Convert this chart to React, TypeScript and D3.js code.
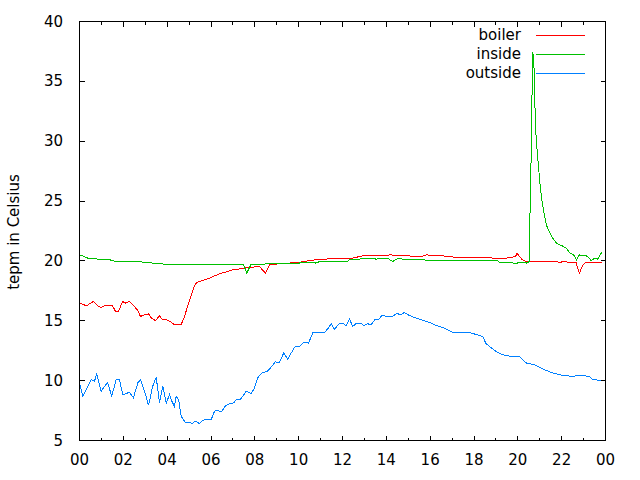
import React, { useEffect } from 'react';
import * as d3 from 'd3';

// x ticks: hour of the day, every 2 hours
const xTickHours = [0, 2, 4, 6, 8, 10, 12, 14, 16, 18, 20, 22, 24];
const xTickLabels = ['00', '02', '04', '06', '08', '10', '12', '14', '16', '18', '20', '22', '00'];
const xMinorHours = [1, 3, 5, 7, 9, 11, 13, 15, 17, 19, 21, 23];
const yTicks = [5, 10, 15, 20, 25, 30, 35, 40];

const seriesNames = ['boiler', 'inside', 'outside'];
const seriesColors = ['#ff0000', '#00c000', '#0080ff'];

// [hour, °C]
const boiler: [number, number][] = [
  [0.00, 16.48], [0.32, 16.25], [0.55, 16.53], [0.64, 16.61], [0.78, 16.33], [0.96, 16.11],
  [1.14, 16.25], [1.51, 16.25], [1.64, 15.78], [1.78, 15.78], [1.96, 16.61], [2.10, 16.48],
  [2.28, 16.61], [2.51, 16.19], [2.69, 15.78], [2.78, 15.36], [2.97, 15.50], [3.15, 15.58],
  [3.28, 15.23], [3.47, 15.00], [3.65, 15.42], [3.79, 15.08], [3.97, 15.08], [4.20, 14.86],
  [4.29, 14.73], [4.65, 14.73], [4.79, 15.36], [4.93, 16.19], [5.06, 16.89], [5.20, 17.73],
  [5.34, 18.19], [5.47, 18.28], [5.70, 18.42], [5.93, 18.56], [6.16, 18.75], [6.48, 18.98],
  [6.75, 19.11], [6.98, 19.25], [7.30, 19.33], [7.62, 19.44], [8.21, 19.53], [8.49, 18.98],
  [8.67, 19.67], [8.90, 19.73], [10.04, 19.89], [10.40, 20.00], [10.95, 20.14], [12.45, 20.23],
  [12.64, 20.31], [12.91, 20.42], [14.23, 20.50], [15.60, 20.36], [15.83, 20.50], [16.56, 20.44],
  [16.88, 20.33], [18.25, 20.31], [18.52, 20.25], [19.47, 20.23], [19.89, 20.36], [19.97, 20.64],
  [20.07, 20.36], [20.22, 20.08], [20.38, 19.94], [21.75, 19.94], [21.90, 19.89], [22.13, 19.94],
  [22.35, 19.89], [22.66, 19.89], [22.73, 19.39], [22.81, 18.98], [22.93, 19.53], [23.04, 19.81],
  [23.19, 19.89], [23.80, 19.89], [23.86, 19.81],
];

const inside: [number, number][] = [
  [0.00, 20.50], [0.15, 20.42], [0.38, 20.23], [0.91, 20.14], [1.37, 20.14], [1.45, 20.00],
  [2.74, 19.94], [3.04, 19.86], [3.42, 19.81], [3.88, 19.73], [7.48, 19.73], [7.63, 18.98],
  [7.83, 19.73], [8.44, 19.73], [8.52, 19.81], [10.04, 19.81], [10.08, 19.89], [10.72, 19.89],
  [10.77, 19.81], [10.95, 19.94], [12.24, 19.94], [12.32, 20.14], [12.77, 20.14], [12.92, 20.23],
  [13.38, 20.23], [13.54, 20.14], [13.76, 20.23], [14.06, 20.23], [14.29, 19.94], [14.45, 20.14],
  [14.60, 20.23], [14.75, 20.14], [15.66, 20.14], [15.74, 20.08], [16.20, 20.00], [19.08, 20.00],
  [19.16, 19.89], [19.75, 19.89], [19.80, 19.81], [19.98, 19.81], [20.03, 19.89], [20.30, 19.89],
  [20.38, 19.81], [20.45, 19.89], [20.51, 19.92], [20.53, 22.03], [20.59, 26.48], [20.62, 30.92],
  [20.68, 37.44], [20.73, 36.75], [20.77, 33.42], [20.83, 30.50], [20.89, 28.98], [20.97, 27.31],
  [21.03, 26.06], [21.12, 24.81], [21.21, 23.83], [21.30, 23.00], [21.44, 22.44], [21.59, 21.92],
  [21.76, 21.48], [22.03, 21.25], [22.22, 21.06], [22.35, 20.71], [22.57, 20.46], [22.67, 20.08],
  [22.81, 20.50], [23.12, 20.44], [23.27, 20.23], [23.35, 20.00], [23.49, 20.23], [23.64, 20.14],
  [23.80, 20.64], [23.85, 20.69],
];

const outside: [number, number][] = [
  [0.00, 9.81], [0.15, 8.69], [0.38, 9.53], [0.53, 10.08], [0.68, 9.94], [0.79, 10.56],
  [0.99, 9.11], [1.14, 9.53], [1.29, 9.81], [1.47, 8.69], [1.67, 10.08], [1.82, 10.08],
  [1.98, 8.83], [2.13, 8.92], [2.28, 9.03], [2.46, 8.56], [2.66, 9.81], [2.78, 10.08],
  [2.97, 9.11], [3.15, 7.94], [3.34, 9.53], [3.50, 10.28], [3.65, 8.14], [3.80, 9.53],
  [3.96, 8.14], [4.11, 8.83], [4.18, 8.42], [4.33, 7.86], [4.41, 8.69], [4.52, 8.42],
  [4.64, 7.03], [4.82, 6.53], [5.02, 6.53], [5.14, 6.42], [5.29, 6.61], [5.47, 6.42],
  [5.62, 6.69], [5.78, 6.75], [6.01, 6.75], [6.16, 7.44], [6.31, 7.53], [6.46, 7.36],
  [6.65, 7.86], [6.84, 8.08], [7.03, 8.14], [7.15, 8.42], [7.33, 8.42], [7.45, 8.69],
  [7.60, 9.11], [7.83, 8.92], [7.98, 9.35], [8.13, 10.23], [8.32, 10.64], [8.56, 10.78],
  [8.71, 11.06], [8.93, 11.56], [9.12, 11.53], [9.32, 12.31], [9.50, 11.81], [9.66, 12.31],
  [9.84, 12.86], [10.04, 12.86], [10.23, 13.19], [10.45, 13.14], [10.64, 13.98], [11.15, 13.98],
  [11.36, 14.39], [11.48, 14.75], [11.63, 14.31], [11.86, 14.75], [12.04, 14.75], [12.17, 14.58],
  [12.32, 15.14], [12.47, 14.53], [12.65, 14.81], [12.85, 14.81], [12.97, 14.58], [13.15, 14.75],
  [13.31, 14.67], [13.50, 15.14], [13.65, 15.08], [13.81, 15.48], [13.99, 15.36], [14.29, 15.36],
  [14.48, 15.64], [14.63, 15.50], [14.83, 15.69], [15.05, 15.44], [15.28, 15.28], [15.51, 15.14],
  [15.74, 15.00], [15.97, 14.86], [16.20, 14.67], [16.42, 14.53], [16.65, 14.39], [16.85, 14.19],
  [17.11, 13.98], [17.87, 13.98], [18.40, 13.69], [18.55, 13.08], [19.01, 12.44], [19.31, 12.17],
  [19.69, 12.03], [20.07, 12.03], [20.38, 11.48], [20.83, 11.28], [21.21, 10.92], [21.59, 10.64],
  [22.05, 10.44], [22.50, 10.36], [22.81, 10.44], [23.27, 10.36], [23.42, 10.08], [23.80, 10.03],
  [24.00, 10.00],
];

const allSeries = [boiler, inside, outside];

const FONT = '"DejaVu Sans", sans-serif';

export default function App() {
  useEffect(() => {
    document.body.style.margin = '0';
  }, []);

  const W = 640;
  const H = 480;
  const left = 79.5;
  const right = 605.5;
  const top = 21.5;
  const bottom = 440.5;

  const x = d3.scaleLinear().domain([0, 24]).range([left, right]);
  const y = d3.scaleLinear().domain([5, 40]).range([bottom, top]);
  const line = d3
    .line<[number, number]>()
    .x((d) => x(d[0]))
    .y((d) => y(d[1]));

  const majorLen = 5;
  const minorLen = 3;

  return (
    <svg width={W} height={H} style={{ display: 'block', background: '#fff' }}>
      {/* data */}
      {allSeries.map((s, i) => (
        <path
          key={seriesNames[i]}
          d={line(s) || ''}
          fill="none"
          stroke={seriesColors[i]}
          strokeWidth={1}
          shapeRendering="crispEdges"
        />
      ))}

      {/* frame */}
      <rect
        x={left}
        y={top}
        width={right - left}
        height={bottom - top}
        fill="none"
        stroke="#000"
        strokeWidth={1}
        shapeRendering="crispEdges"
      />

      {/* x ticks */}
      <g stroke="#000" strokeWidth={1} shapeRendering="crispEdges">
        {xTickHours.map((h) => (
          <g key={'xt' + h}>
            <line x1={x(h)} x2={x(h)} y1={bottom} y2={bottom - majorLen} />
            <line x1={x(h)} x2={x(h)} y1={top} y2={top + majorLen} />
          </g>
        ))}
        {xMinorHours.map((h) => (
          <g key={'xm' + h}>
            <line x1={x(h)} x2={x(h)} y1={bottom} y2={bottom - minorLen} />
            <line x1={x(h)} x2={x(h)} y1={top} y2={top + minorLen} />
          </g>
        ))}
        {yTicks.map((v) => (
          <g key={'yt' + v}>
            <line x1={left} x2={left + majorLen} y1={y(v)} y2={y(v)} />
            <line x1={right} x2={right - majorLen} y1={y(v)} y2={y(v)} />
          </g>
        ))}
      </g>

      {/* tick labels */}
      <g fontFamily={FONT} fontSize={15} fill="#000">
        {xTickHours.map((h, i) => (
          <text key={'xl' + i} x={x(h)} y={460} textAnchor="middle" dominantBaseline="central">
            {xTickLabels[i]}
          </text>
        ))}
        {yTicks.map((v) => (
          <text key={'yl' + v} x={63} y={y(v)} textAnchor="end" dominantBaseline="central">
            {v}
          </text>
        ))}
        <text
          transform="translate(14,232) rotate(-90)"
          textAnchor="middle"
          dominantBaseline="central"
        >
          tepm in Celsius
        </text>
      </g>

      {/* legend */}
      <g fontFamily={FONT} fontSize={15} fill="#000">
        {seriesNames.map((n, i) => (
          <g key={'lg' + n}>
            <text x={521} y={35 + i * 19} textAnchor="end" dominantBaseline="central">
              {n}
            </text>
            <line
              x1={536}
              x2={585}
              y1={35.5 + i * 19}
              y2={35.5 + i * 19}
              stroke={seriesColors[i]}
              strokeWidth={1}
              shapeRendering="crispEdges"
            />
          </g>
        ))}
      </g>
    </svg>
  );
}
